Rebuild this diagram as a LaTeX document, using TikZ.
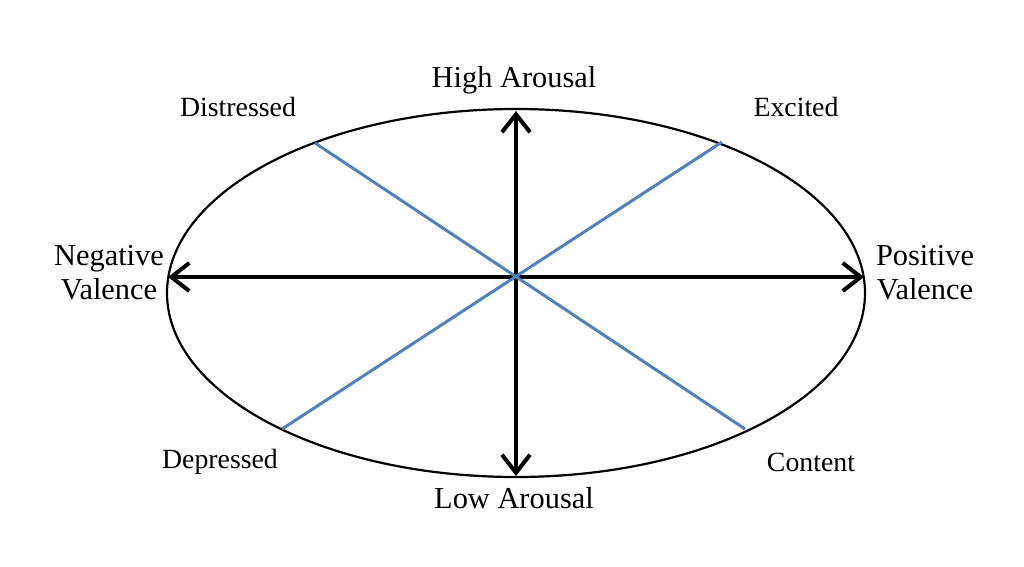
\documentclass[tikz,border=0pt]{standalone}
\usepackage{fontspec}
\setmainfont{Liberation Serif}
\usepackage{xcolor}
\usetikzlibrary{arrows.meta}
\definecolor{moodblue}{RGB}{79,129,189}

\begin{document}
\begin{tikzpicture}[x=0.5pt, y=-0.5pt,
        lbl/.style={font=\fontsize{15.2}{17}\selectfont, align=center, inner sep=0pt},
        moodlbl/.style={font=\fontsize{13.9}{16}\selectfont, inner sep=0pt},
        axis/.style={line width=2pt, {Straight Barb[length=9pt,width=14pt]}-{Straight Barb[length=9pt,width=14pt]}},
        mood/.style={line width=1.5pt, moodblue}
    ]
        \useasboundingbox (0,0) rectangle (1024,567);
        \draw[line width=1.1pt] (516,293) ellipse [x radius=349, y radius=184];

        \coordinate (up)    at (516,111);
        \coordinate (down)  at (516,476);
        \coordinate (left)  at (168,277);
        \coordinate (right) at (864,277);
        \coordinate (dis) at (315,143);
        \coordinate (exc) at (722,142);
        \coordinate (dep) at (282,429);
        \coordinate (con) at (745,429);

        \node[lbl] (high)       at (514,80)  {High Arousal};
        \node[lbl] (low)        at (514,498) {Low Arousal};
        \node[lbl] (neg)        at (109,273) {Negative\\Valence};
        \node[lbl] (pos)        at (925,273) {Positive\\Valence};
        \node[moodlbl] (distressed) at (238,107) {Distressed};
        \node[moodlbl] (excited)    at (796,107) {Excited};
        \node[moodlbl] (depressed)  at (220,462) {Depressed};
        \node[moodlbl] (content)    at (811,462) {Content};

        \draw[axis] (down) -- (up);
        \draw[axis] (left) -- (right);
        \draw[mood] (dis) -- (con);
        \draw[mood] (exc) -- (dep);
    \end{tikzpicture}
\end{document}
